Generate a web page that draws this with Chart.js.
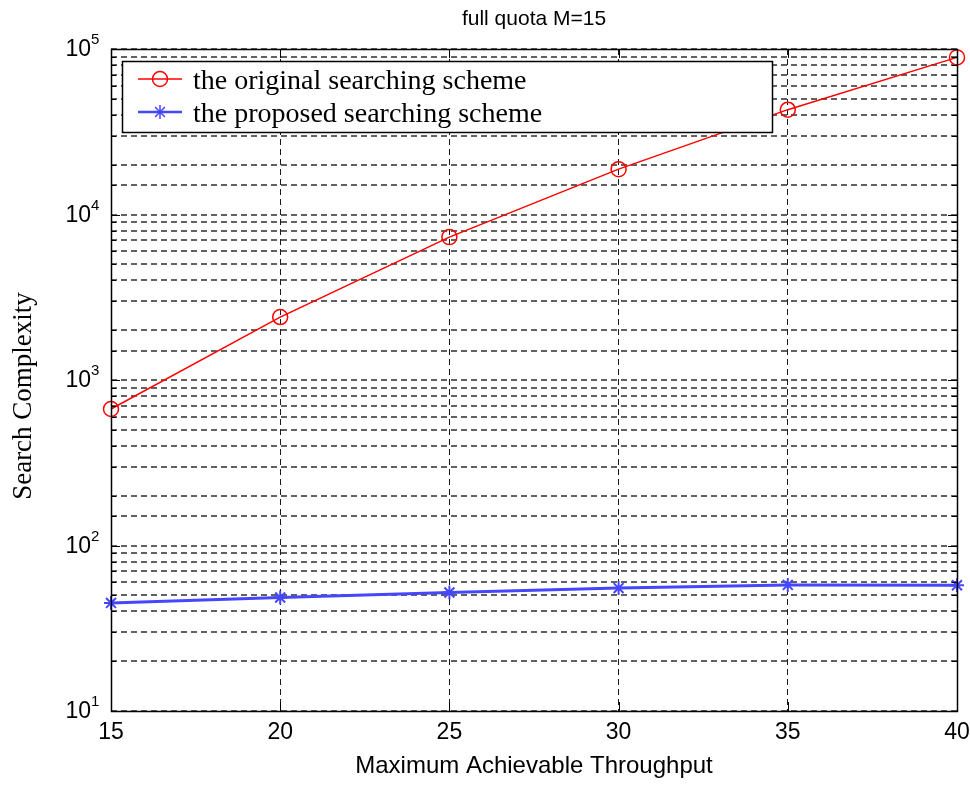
<!DOCTYPE html>
<html>
<head>
<meta charset="utf-8">
<script src="https://cdn.jsdelivr.net/npm/chart.js@4.4.1/dist/chart.umd.min.js"></script>
<style>
  html, body { margin: 0; padding: 0; background: #fff; overflow: hidden; }
  #wrap { width: 970px; height: 785px; }
</style>
</head>
<body>
<div id="wrap"><canvas id="chart_1"></canvas></div>
<script>
// data
var throughput = [15, 20, 25, 30, 35, 40];
var originalScheme = [668, 2400, 7300, 18800, 43000, 89000];
var proposedScheme = [45, 48.5, 52, 55.3, 57.8, 57.5];
var xTicks = [15, 20, 25, 30, 35, 40];
var yDecades = [10, 100, 1000, 10000, 100000];

var titleText = 'full quota M=15';
var xTitle = 'Maximum Achievable Throughput';
var yTitle = 'Search Complexity';
var legendNames = ['the original searching scheme', 'the proposed searching scheme'];

var redColor = '#ff0000';
var blueColor = '#4646ff';

function toPoints(xs, ys){
  var pts = [];
  for(var i = 0; i < xs.length; i++){
    pts.push({x: xs[i], y: ys[i]});
  }
  return pts;
}

// extra drawing: frame, inner ticks, y labels with exponent, titles, legend box
var matlabLook = {
  id: 'matlabLook',
  afterDatasetsDraw: function(chart){
    var ctx = chart.ctx;
    var a = chart.chartArea;
    var xs = chart.scales.x;
    var ys = chart.scales.y;
    ctx.save();

    // inner tick marks
    ctx.strokeStyle = '#000';
    ctx.lineWidth = 1;
    ctx.beginPath();
    ys.ticks.forEach(function(t){
      var py = Math.round(ys.getPixelForValue(t.value)) + 0.5;
      var major = yDecades.indexOf(t.value) >= 0;
      var len = major ? 9 : 5;
      ctx.moveTo(a.left, py); ctx.lineTo(a.left + len, py);
      ctx.moveTo(a.right, py); ctx.lineTo(a.right - len, py);
    });
    xTicks.forEach(function(v){
      var px = Math.round(xs.getPixelForValue(v)) + 0.5;
      ctx.moveTo(px, a.bottom); ctx.lineTo(px, a.bottom - 9);
      ctx.moveTo(px, a.top); ctx.lineTo(px, a.top + 9);
    });
    ctx.stroke();

    // legend box
    var lx = 122, ly = 61, lw = 650, lh = 71;
    ctx.fillStyle = '#fff';
    ctx.fillRect(lx, ly, lw, lh);
    ctx.lineWidth = 1.5;
    ctx.strokeStyle = '#000';
    ctx.strokeRect(lx + 0.5, ly + 0.5, lw, lh);

    var rows = [
      {name: legendNames[0], color: redColor, width: 1.5, y: 79, mark: 'circle'},
      {name: legendNames[1], color: blueColor, width: 2.5, y: 112, mark: 'star'}
    ];
    rows.forEach(function(r){
      ctx.strokeStyle = r.color;
      ctx.lineWidth = r.width;
      ctx.beginPath();
      ctx.moveTo(138, r.y); ctx.lineTo(182, r.y);
      ctx.stroke();
      ctx.lineWidth = 1.5;
      ctx.beginPath();
      if(r.mark == 'circle'){
        ctx.arc(160, r.y, 7.5, 0, Math.PI * 2);
      } else {
        for(var k = 0; k < 4; k++){
          var ang = k * Math.PI / 4;
          ctx.moveTo(160 - 7 * Math.cos(ang), r.y - 7 * Math.sin(ang));
          ctx.lineTo(160 + 7 * Math.cos(ang), r.y + 7 * Math.sin(ang));
        }
      }
      ctx.stroke();
      ctx.fillStyle = '#000';
      ctx.font = '28px "Liberation Serif", "Times New Roman", serif';
      ctx.textAlign = 'left';
      ctx.textBaseline = 'alphabetic';
      ctx.fillText(r.name, 193, r.y + 10);
    });

    // frame
    ctx.strokeStyle = '#000';
    ctx.lineWidth = 1.5;
    ctx.strokeRect(a.left + 0.5, a.top + 0.5, a.right - a.left, a.bottom - a.top);

    // y tick labels 10^n
    ctx.fillStyle = '#000';
    yDecades.forEach(function(v){
      var py = ys.getPixelForValue(v);
      var exp = Math.round(Math.log10(v));
      ctx.font = '23px "Liberation Sans", Arial, sans-serif';
      ctx.textAlign = 'right';
      ctx.textBaseline = 'middle';
      ctx.fillText('10', 91, py + 1);
      ctx.font = '15px "Liberation Sans", Arial, sans-serif';
      ctx.textAlign = 'left';
      ctx.textBaseline = 'alphabetic';
      ctx.fillText(String(exp), 91, py - 5);
    });

    // titles
    ctx.font = '21px "Liberation Sans", Arial, sans-serif';
    ctx.textAlign = 'center';
    ctx.textBaseline = 'middle';
    ctx.fillText(titleText, (a.left + a.right) / 2, 19);

    ctx.font = '24px "Liberation Sans", Arial, sans-serif';
    ctx.fillText(xTitle, (a.left + a.right) / 2, 766);

    ctx.save();
    ctx.translate(24, 396);
    ctx.rotate(-Math.PI / 2);
    ctx.font = '27px "Liberation Serif", "Times New Roman", serif';
    ctx.fillText(yTitle, 0, 0);
    ctx.restore();

    ctx.restore();
  }
};

var ctx_1 = document.getElementById('chart_1').getContext('2d');
var chart_1 = new Chart(ctx_1, {
  type: 'line',
  data: {
    datasets: [{
      label: legendNames[0],
      data: toPoints(throughput, originalScheme),
      borderColor: redColor,
      backgroundColor: 'transparent',
      borderWidth: 1.5,
      pointStyle: 'circle',
      pointRadius: 7.5,
      pointBorderWidth: 1.5,
      pointBorderColor: redColor,
      pointBackgroundColor: 'transparent',
      tension: 0,
      clip: false
    }, {
      label: legendNames[1],
      data: toPoints(throughput, proposedScheme),
      borderColor: blueColor,
      backgroundColor: 'transparent',
      borderWidth: 3,
      pointStyle: 'star',
      pointRadius: 7,
      pointBorderWidth: 2,
      pointBorderColor: blueColor,
      pointBackgroundColor: blueColor,
      tension: 0,
      clip: false
    }]
  },
  options: {
    responsive: true,
    maintainAspectRatio: false,
    animation: false,
    events: [],
    layout: {
      padding: { left: 0, right: 13, top: 49, bottom: 0 }
    },
    plugins: {
      legend: { display: false },
      title: { display: false },
      tooltip: { enabled: false }
    },
    scales: {
      x: {
        type: 'linear',
        min: 15,
        max: 40,
        afterFit: function(scale){
          scale.height = 74;
          scale.paddingLeft = 0;
          scale.paddingRight = 0;
        },
        afterBuildTicks: function(scale){
          scale.ticks = xTicks.map(function(v){ return {value: v}; });
        },
        ticks: {
          color: '#000',
          font: { family: '"Liberation Sans", Arial, sans-serif', size: 23 },
          padding: 8,
          maxRotation: 0,
          autoSkip: false
        },
        grid: {
          color: 'rgba(0,0,0,0.9)',
          lineWidth: 1,
          drawTicks: false
        },
        border: { display: false, dash: [6, 4] }
      },
      y: {
        type: 'logarithmic',
        min: 10,
        max: 100000,
        afterFit: function(scale){
          scale.width = 111;
          scale.paddingTop = 0;
          scale.paddingBottom = 0;
        },
        ticks: {
          autoSkip: false,
          callback: function(){ return ''; }
        },
        grid: {
          color: 'rgba(0,0,0,0.62)',
          lineWidth: 2,
          drawTicks: false
        },
        border: { display: false, dash: [6, 4] }
      }
    }
  },
  plugins: [matlabLook]
});
</script>
</body>
</html>
